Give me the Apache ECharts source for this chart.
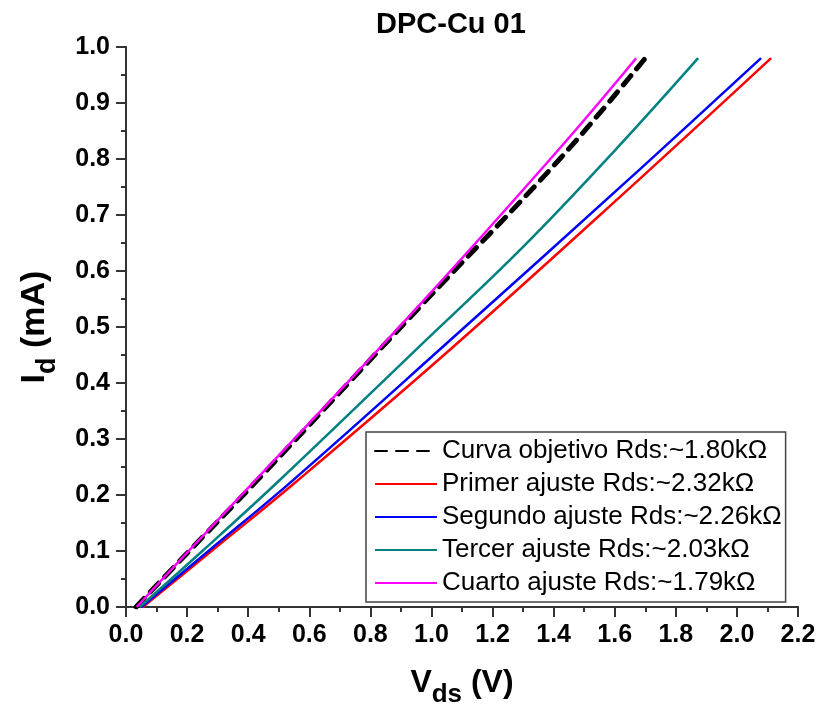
<!DOCTYPE html>
<html>
<head>
<meta charset="utf-8">
<script src="https://cdn.jsdelivr.net/npm/echarts@6/dist/echarts.min.js"></script>
<style>html,body{margin:0;padding:0;background:#fff;}#c{width:817px;height:709px;}</style>
</head>
<body>
<div id="c"></div>
<script>
// Data (V in volts, I in mA)
const titleText = 'DPC-Cu 01';
const seriesNames = [
  'Curva objetivo Rds:~1.80k\u03A9',
  'Primer ajuste Rds:~2.32k\u03A9',
  'Segundo ajuste Rds:~2.26k\u03A9',
  'Tercer ajuste Rds:~2.03k\u03A9',
  'Cuarto ajuste Rds:~1.79k\u03A9'
];
const vCurva   = [0.033, 0.207, 0.431, 0.962, 1.42, 1.70];
const iCurva   = [0.0,   0.10,  0.227, 0.536, 0.80, 0.98];
const vPrimer  = [0.055, 0.28,  0.56,  1.066, 1.683, 2.112];
const iPrimer  = [0.0,   0.10,  0.225, 0.462, 0.765, 0.98];
const vSegundo = [0.05,  0.27,  0.55,  1.04,  1.683, 2.079];
const iSegundo = [0.0,   0.10,  0.228, 0.466, 0.782, 0.98];
const vTercer  = [0.045, 0.25,  0.50,  0.96,  1.30,  1.60,  1.873];
const iTercer  = [0.0,   0.10,  0.225, 0.465, 0.643, 0.815, 0.98];
const vCuarto  = [0.035, 0.205, 0.43,  0.962, 1.415, 1.67];
const iCuarto  = [0.0,   0.10,  0.23,  0.54,  0.816, 0.98];
const xTicks = [0.0, 0.2, 0.4, 0.6, 0.8, 1.0, 1.2, 1.4, 1.6, 1.8, 2.0, 2.2];
const yTicks = [0.0, 0.1, 0.2, 0.3, 0.4, 0.5, 0.6, 0.7, 0.8, 0.9, 1.0];

const pairs = (xs, ys) => xs.map((x, i) => [x, ys[i]]);
const FONT = 'Arial, "Liberation Sans", sans-serif';
const AX = '#333';

const chart = echarts.init(document.getElementById('c'));
const baseAxis = {
  axisLine: {show: true, onZero: false, lineStyle: {color: AX, width: 2}},
  axisTick: {show: true, inside: false, length: 10, lineStyle: {color: AX, width: 2}},
  minorTick: {show: true, splitNumber: 2, length: 5, lineStyle: {color: AX, width: 2}},
  splitLine: {show: false},
  axisLabel: {fontFamily: FONT, fontSize: 25, fontWeight: 'bold', color: '#000', formatter: v => v.toFixed(1)}
};
const frameAxis = {
  axisLine: {show: true, lineStyle: {color: AX, width: 2}},
  axisTick: {show: false}, axisLabel: {show: false}, splitLine: {show: false}
};
const mk = (name, xs, ys, color, extra) => Object.assign({
  name, type: 'line', data: pairs(xs, ys), smooth: 0.4, symbol: 'none',
  lineStyle: {color, width: 2.5}, itemStyle: {color}
}, extra || {});
const nameRich = (big, small, drop) => ({
  a: {fontFamily: FONT, fontSize: big, fontWeight: 'bold', color: '#000', padding: [0, 0, drop, 0]},
  b: {fontFamily: FONT, fontSize: small, fontWeight: 'bold', color: '#000', padding: [drop + 2, 0, 0, 0]}
});

chart.setOption({
  animation: false,
  backgroundColor: '#fff',
  title: {text: titleText, left: 376, top: 10, padding: 0,
    textStyle: {fontFamily: FONT, fontSize: 29, fontWeight: 'bold', color: '#000'}},
  grid: {left: 126, right: 19, top: 47, bottom: 102, containLabel: false, outerBoundsMode: 'none'},
  legend: {
    left: 366, top: 432, orient: 'vertical', padding: [4, 4, 4, 8], itemGap: 3,
    itemWidth: 62, itemHeight: 14,
    itemStyle: {opacity: 0},
    borderColor: '#444', borderWidth: 1.5, backgroundColor: '#fff',
    textStyle: {fontFamily: FONT, fontSize: 26, color: '#000', lineHeight: 30},
    data: seriesNames
  },
  xAxis: [
    Object.assign({}, baseAxis, {type: 'value', min: xTicks[0], max: xTicks[xTicks.length-1], interval: 0.2,
      axisLabel: Object.assign({}, baseAxis.axisLabel, {margin: 16}),
      name: '{a|V}{b|ds}{a| (V)}', nameLocation: 'middle', nameGap: 60,
      nameTextStyle: {rich: nameRich(32, 26, 11)}}),
    Object.assign({}, frameAxis, {type: 'value', position: 'top', min: xTicks[0], max: xTicks[xTicks.length-1]})
  ],
  yAxis: [
    Object.assign({}, baseAxis, {type: 'value', min: yTicks[0], max: yTicks[yTicks.length-1], interval: 0.1,
      axisLabel: Object.assign({}, baseAxis.axisLabel, {margin: 16}),
      name: '{a|I}{b|d}{a| (mA)}', nameLocation: 'middle', nameGap: 62, nameRotate: 90,
      nameTextStyle: {rich: nameRich(34, 27, 12)}}),
    Object.assign({}, frameAxis, {type: 'value', position: 'right', min: yTicks[0], max: yTicks[yTicks.length-1]})
  ],
  series: [
    mk(seriesNames[0], vCurva, iCurva, '#000', {lineStyle: {color: '#000', width: 5, type: [12, 9], cap: 'round'}}),
    mk(seriesNames[1], vPrimer, iPrimer, '#ff0000'),
    mk(seriesNames[2], vSegundo, iSegundo, '#0000ff'),
    mk(seriesNames[3], vTercer, iTercer, '#008080'),
    mk(seriesNames[4], vCuarto, iCuarto, '#ff00ff')
  ]
});
</script>
</body>
</html>
